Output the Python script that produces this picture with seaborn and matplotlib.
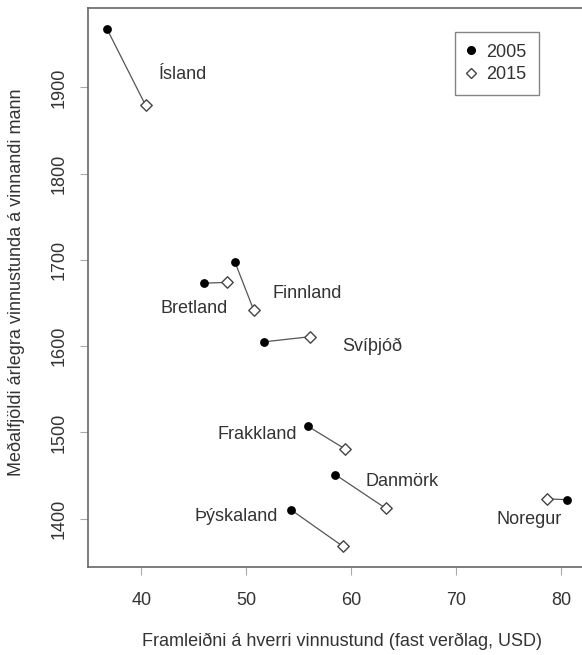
import matplotlib
matplotlib.use("Agg")
import matplotlib.pyplot as plt
from matplotlib.lines import Line2D
import seaborn as sns
import pandas as pd

countries = ["Ísland", "Bretland", "Finnland", "Svíþjóð", "Frakkland", "Danmörk", "Þýskaland", "Noregur"]
prod_2005 = [36.7, 46.0, 48.9, 51.7, 55.9, 58.5, 54.3, 80.6]
hours_2005 = [1968, 1673, 1698, 1605, 1507, 1451, 1410, 1422]
prod_2015 = [40.4, 48.2, 50.7, 56.1, 59.4, 63.3, 59.2, 78.7]
hours_2015 = [1879, 1674, 1642, 1611, 1481, 1412, 1368, 1423]
label_x = [44.0, 45.0, 55.8, 62.0, 51.0, 64.9, 49.0, 77.0]
label_y = [1915, 1644, 1661, 1600, 1498, 1443, 1402, 1399]
years = ["2005", "2015"]
x_ticks = [40, 50, 60, 70, 80]
y_ticks = [1400, 1500, 1600, 1700, 1800, 1900]

sns.set_theme(style="white")
plt.rcParams["font.family"] = ["Liberation Sans", "DejaVu Sans"]
txt = "#333333"
spine = "#666666"
fs = 13

df = pd.DataFrame({
    "country": countries * 2,
    "prod": prod_2005 + prod_2015,
    "hours": hours_2005 + hours_2015,
    "year": [years[0]] * len(countries) + [years[1]] * len(countries),
})

fig = plt.figure(figsize=(5.82, 6.55), dpi=100)
ax = fig.add_axes([88 / 582, 88 / 655, (586 - 88) / 582, (647 - 88) / 655])

sns.lineplot(data=df, x="prod", y="hours", units="country", estimator=None,
             sort=False, color="#555555", linewidth=0.9, ax=ax, legend=False)
d05 = df[df.year == years[0]]
d15 = df[df.year == years[1]]
sns.scatterplot(data=d05, x="prod", y="hours", marker="o", s=40, color="black",
                edgecolor="black", linewidth=0, ax=ax, legend=False, zorder=3)
sns.scatterplot(data=d15, x="prod", y="hours", marker="D", s=34, facecolor="white",
                edgecolor="#444444", linewidth=1.0, ax=ax, legend=False, zorder=3)

for c, lx, ly in zip(countries, label_x, label_y):
    ax.text(lx, ly, c, ha="center", va="center", fontsize=fs, color=txt)

ax.set_xlim(34.9, 82.4)
ax.set_ylim(1344, 1992)
ax.set_xticks(x_ticks)
ax.set_yticks(y_ticks)
ax.set_yticklabels([str(v) for v in y_ticks], rotation=90, va="center")
ax.tick_params(axis="x", direction="out", length=6, width=0.8,
               color="#aaaaaa", labelsize=fs, labelcolor=txt, pad=12, bottom=True)
ax.tick_params(axis="y", direction="out", length=6, width=0.8,
               color="#aaaaaa", labelsize=fs, labelcolor=txt, pad=9, left=True)
for s in ax.spines.values():
    s.set_color(spine)
    s.set_linewidth(1.2)

ax.set_xlabel("Framleiðni á hverri vinnustund (fast verðlag, USD)", fontsize=fs,
              color=txt, va="center")
ax.xaxis.set_label_coords(0.511, -0.1324)
ax.set_ylabel("Meðalfjöldi árlegra vinnustunda á vinnandi mann", fontsize=fs,
              color=txt, va="center")
ax.yaxis.set_label_coords(-0.1446, 0.509)

handles = [
    Line2D([], [], marker="o", linestyle="none", color="black", markersize=5.5),
    Line2D([], [], marker="D", linestyle="none", markerfacecolor="white",
           markeredgecolor="#444444", markersize=5.5),
]
leg = ax.legend(handles, years, loc="upper left", bbox_to_anchor=(0.737, 0.957),
                fontsize=fs, frameon=True, fancybox=False, handlelength=0.5,
                handletextpad=0.6, borderpad=0.65, labelspacing=0.3,
                borderaxespad=0)
leg.get_frame().set_edgecolor(spine)
leg.get_frame().set_linewidth(1.0)
for t in leg.get_texts():
    t.set_color(txt)

fig.savefig("out.png", dpi=100)
